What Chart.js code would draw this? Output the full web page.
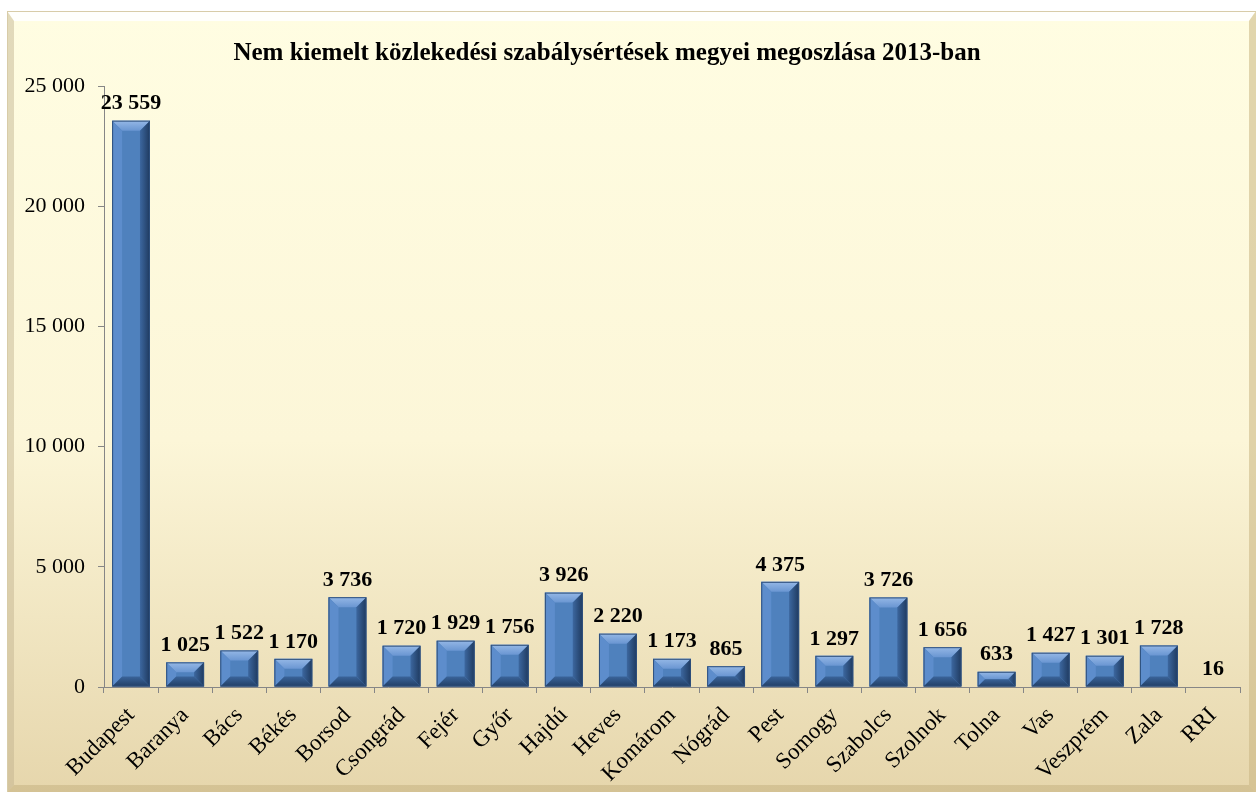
<!DOCTYPE html>
<html>
<head>
<meta charset="utf-8">
<script src="https://cdn.jsdelivr.net/npm/chart.js@4/dist/chart.umd.min.js"></script>
<style>
  html, body { margin: 0; padding: 0; background: #fff; }
  #wrap { width: 1256px; height: 792px; }
</style>
</head>
<body>
<div id="wrap"><canvas id="megyeChart" width="1256" height="792"></canvas></div>
<script>
var megyek = ["Budapest", "Baranya", "Bács", "Békés", "Borsod", "Csongrád", "Fejér", "Győr", "Hajdú", "Heves",
  "Komárom", "Nógrád", "Pest", "Somogy", "Szabolcs", "Szolnok", "Tolna", "Vas", "Veszprém", "Zala", "RRI"];
var esetek = [23559, 1025, 1522, 1170, 3736, 1720, 1929, 1756, 3926, 2220,
  1173, 865, 4375, 1297, 3726, 1656, 633, 1427, 1301, 1728, 16];
var yMax = 25000;
var yStep = 5000;
var cim = "Nem kiemelt közlekedési szabálysértések megyei megoszlása 2013-ban";

var serif = "'Liberation Serif', 'Times New Roman', serif";

function ezres(n) {
  return String(n).replace(/\B(?=(\d{3})+(?!\d))/g, " ");
}

// cream panel with a soft bevelled frame
var hatter = {
  id: "hatter",
  beforeDraw: function (chart) {
    var ctx = chart.ctx;
    var x0 = 7, y0 = 11, x1 = 1256, y1 = 792, b = 7;
    ctx.save();
    ctx.fillStyle = "#fff";
    ctx.fillRect(0, 0, chart.width, chart.height);
    var g = ctx.createLinearGradient(0, y0, 0, y1);
    g.addColorStop(0, "#FFFDE2");
    g.addColorStop(0.55, "#FCF6D8");
    g.addColorStop(1, "#E6D6AC");
    ctx.fillStyle = g;
    ctx.fillRect(x0, y0, x1 - x0, y1 - y0);
    // top highlight
    ctx.fillStyle = "rgba(255,255,255,0.9)";
    ctx.beginPath();
    ctx.moveTo(x0, y0); ctx.lineTo(x1, y0); ctx.lineTo(x1 - b, y0 + b + 3); ctx.lineTo(x0 + b, y0 + b + 3);
    ctx.closePath(); ctx.fill();
    // left
    ctx.fillStyle = "rgba(190,176,140,0.45)";
    ctx.beginPath();
    ctx.moveTo(x0, y0); ctx.lineTo(x0 + b, y0 + b + 3); ctx.lineTo(x0 + b, y1 - b); ctx.lineTo(x0, y1);
    ctx.closePath(); ctx.fill();
    // right
    ctx.fillStyle = "rgba(200,180,130,0.55)";
    ctx.beginPath();
    ctx.moveTo(x1, y0); ctx.lineTo(x1 - b, y0 + b + 3); ctx.lineTo(x1 - b, y1 - b); ctx.lineTo(x1, y1);
    ctx.closePath(); ctx.fill();
    // bottom
    ctx.fillStyle = "rgba(190,170,120,0.45)";
    ctx.beginPath();
    ctx.moveTo(x0, y1); ctx.lineTo(x0 + b, y1 - b); ctx.lineTo(x1 - b, y1 - b); ctx.lineTo(x1, y1);
    ctx.closePath(); ctx.fill();
    ctx.strokeStyle = "#D8CCA8";
    ctx.lineWidth = 1;
    ctx.strokeRect(x0 + 0.5, y0 + 0.5, x1 - x0, y1 - y0);
    ctx.restore();
  },
  afterDraw: function (chart) {
    var ctx = chart.ctx;
    ctx.save();
    ctx.fillStyle = "#000";
    ctx.font = "bold 25px " + serif;
    ctx.textAlign = "center";
    ctx.textBaseline = "middle";
    ctx.fillText(cim, 607, 54);
    ctx.restore();
  }
};

// bevelled bars and value labels, using the bar elements' own geometry
var domboru = {
  id: "domboru",
  afterDatasetsDraw: function (chart) {
    var ctx = chart.ctx;
    var meta = chart.getDatasetMeta(0);
    ctx.save();
    meta.data.forEach(function (el, i) {
      var p = el.getProps(["x", "y", "base", "width"], true);
      var l = p.x - p.width / 2, r = p.x + p.width / 2, t = p.y, bo = p.base;
      var h = bo - t;
      var b = Math.min(10, h / 2, p.width / 2);
      if (h > 0.5) {
        var gt = ctx.createLinearGradient(0, t, 0, t + b);
        gt.addColorStop(0, "#95B8E6");
        gt.addColorStop(1, "#6A96D2");
        ctx.fillStyle = gt;
        ctx.beginPath();
        ctx.moveTo(l, t); ctx.lineTo(r, t); ctx.lineTo(r - b, t + b); ctx.lineTo(l + b, t + b);
        ctx.closePath(); ctx.fill();

        ctx.fillStyle = "#5D8DCC";
        ctx.beginPath();
        ctx.moveTo(l, t); ctx.lineTo(l + b, t + b); ctx.lineTo(l + b, bo - b); ctx.lineTo(l, bo);
        ctx.closePath(); ctx.fill();

        var gr = ctx.createLinearGradient(r - b, 0, r, 0);
        gr.addColorStop(0, "#3C679F");
        gr.addColorStop(1, "#1F3A5F");
        ctx.fillStyle = gr;
        ctx.beginPath();
        ctx.moveTo(r, t); ctx.lineTo(r - b, t + b); ctx.lineTo(r - b, bo - b); ctx.lineTo(r, bo);
        ctx.closePath(); ctx.fill();

        var gb = ctx.createLinearGradient(0, bo - b, 0, bo);
        gb.addColorStop(0, "#3A649A");
        gb.addColorStop(1, "#223F66");
        ctx.fillStyle = gb;
        ctx.beginPath();
        ctx.moveTo(l, bo); ctx.lineTo(l + b, bo - b); ctx.lineTo(r - b, bo - b); ctx.lineTo(r, bo);
        ctx.closePath(); ctx.fill();

        ctx.strokeStyle = "#2E4F7C";
        ctx.lineWidth = 1;
        ctx.strokeRect(l + 0.5, t + 0.5, p.width - 1, h - 1);
      }
      ctx.fillStyle = "#000";
      ctx.font = "bold 22px " + serif;
      ctx.textAlign = "center";
      ctx.textBaseline = "bottom";
      ctx.fillText(ezres(esetek[i]), p.x, t - 6);
    });
    ctx.restore();
  }
};

new Chart(document.getElementById("megyeChart"), {
  type: "bar",
  data: {
    labels: megyek,
    datasets: [{
      data: esetek,
      backgroundColor: "#4F81BD",
      borderWidth: 0,
      categoryPercentage: 0.7,
      barPercentage: 1
    }]
  },
  options: {
    responsive: false,
    animation: false,
    layout: { padding: { left: 0, right: 16, top: 86, bottom: 0 } },
    plugins: {
      legend: { display: false },
      tooltip: { enabled: false }
    },
    scales: {
      x: {
        afterFit: function (s) { s.height = 105; },
        grid: { drawOnChartArea: false, offset: true, color: "#868686", tickLength: 6 },
        border: { color: "#868686" },
        ticks: {
          autoSkip: false, maxRotation: 45, minRotation: 45, padding: 9,
          color: "#000", font: { family: serif, size: 23 }
        }
      },
      y: {
        min: 0, max: yMax,
        afterFit: function (s) { s.width = 104; },
        grid: { drawOnChartArea: false, color: "#868686", tickLength: 6 },
        border: { color: "#868686" },
        ticks: {
          stepSize: yStep, padding: 13,
          color: "#000", font: { family: serif, size: 22 },
          callback: function (v) { return ezres(v); }
        }
      }
    }
  },
  plugins: [hatter, domboru]
});
</script>
</body>
</html>
